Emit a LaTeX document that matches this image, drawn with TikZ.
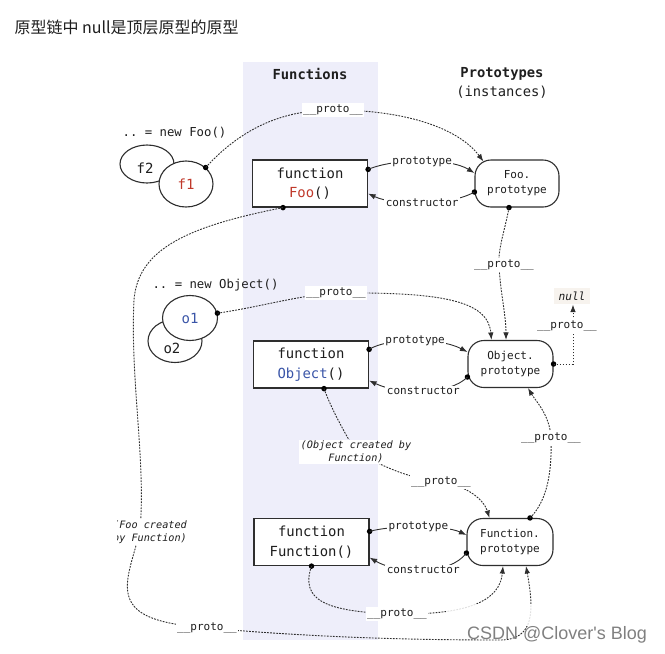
\documentclass[tikz,border=0pt]{standalone}
\usepackage{fontspec}
\setmonofont{DejaVu Sans Mono}
\newfontfamily\cjkfont{Noto Sans CJK SC}
\newfontfamily\wmfont{Liberation Sans}
\usetikzlibrary{arrows.meta,calc,shapes.geometric}
\definecolor{band}{HTML}{EEEEFA}
\definecolor{ink}{HTML}{1E1E1E}
\definecolor{lin}{HTML}{2E2E2E}
\definecolor{fooRed}{HTML}{C0392B}
\definecolor{objBlue}{HTML}{3A55A8}
\definecolor{nullbg}{HTML}{F7F3EE}
\newcommand\boxfont{\fontsize{13.9}{19.5}\selectfont\ttfamily}
\newcommand\smallmono{\fontsize{11}{15}\selectfont\ttfamily}
\newcommand\itmono{\fontsize{10.2}{12.5}\selectfont\ttfamily\itshape}
\newcommand\headfont{\fontsize{13.8}{19}\selectfont\ttfamily}
\newcommand\exprfont{\fontsize{12.3}{14}\selectfont\ttfamily}
\newcommand\instfont{\fontsize{14}{16}\selectfont\ttfamily}
\begin{document}
\begin{tikzpicture}[x=1pt,y=-1pt,
  >={Latex[length=7.5pt,width=5.5pt]},
  fnbox/.style={draw=lin, line width=1.2pt, fill=white, minimum width=115pt, minimum height=47pt, align=center, inner sep=0pt, font=\boxfont, text=ink},
  protobox/.style={draw=lin, line width=1.1pt, fill=white, rounded corners=16pt, minimum height=47pt, align=center, inner sep=0pt, font=\smallmono, text=ink},
  inst/.style={ellipse, draw=lin, line width=1.1pt, fill=white, inner sep=0pt, font=\instfont, text=ink},
  dot/.style={circle, fill=black, inner sep=0pt, minimum size=5.5pt},
  lab/.style={fill=white, inner sep=1.5pt, font=\smallmono, text=ink, align=center},
  dsh/.style={draw=lin, line width=0.9pt, dash pattern=on 1.8pt off 1.2pt},
  con/.style={draw=lin, line width=0.9pt}]
\useasboundingbox (0,0) rectangle (665,654);
\fill[band] (243,62) rectangle (378,640);

\node[anchor=west, font=\cjkfont\fontsize{16}{19}\selectfont, text=ink] (title) at (11,27) {原型链中 null是顶层原型的原型};
\node[font=\headfont\bfseries, text=ink] (hfun) at (310,74) {Functions};
\node[font=\headfont, text=ink, align=center] (hpro) at (502,83) {\textbf{Prototypes}\\(instances)};

% function boxes
\node[fnbox] (foo) at (310,183.5) {function\\\textcolor{fooRed}{Foo}()};
\node[fnbox] (obj) at (311,364.5) {function\\\textcolor{objBlue}{Object}()};
\node[fnbox] (fun) at (311.5,542) {function\\Function()};
% prototype boxes
\node[protobox, minimum width=84pt] (fooP) at (517,183.5) {Foo.\\prototype};
\node[protobox, minimum width=85pt] (objP) at (510.5,364) {Object.\\prototype};
\node[protobox, minimum width=86pt] (funP) at (510,542) {Function.\\prototype};

% instances
\node[font=\exprfont, text=ink] (nfoo) at (174.5,133) {.. = new Foo()};
\node[inst, minimum width=54pt, minimum height=38pt, label={[font=\instfont, text=ink, xshift=-2pt, yshift=-4pt]center:f2}] (f2) at (147,164) {};
\node[inst, minimum width=54pt, minimum height=46pt] (f1) at (186,184) {\textcolor{fooRed}{f1}};
\node[font=\exprfont, text=ink] (nobj) at (215.5,285) {.. = new Object()};
\node[inst, minimum width=54pt, minimum height=43pt, label={[font=\instfont, text=ink, xshift=-3pt, yshift=-7pt]center:o2}] (o2) at (175,341) {};
\node[inst, minimum width=55pt, minimum height=45pt] (o1) at (190,318) {\textcolor{objBlue}{o1}};

\node[font=\fontsize{11.2}{13}\selectfont\ttfamily\itshape, text=ink, fill=nullbg, inner xsep=5pt, inner ysep=4pt] (null) at (572,296) {null};

% dots
\node[dot] (df1) at (f1.40) {};
\node[dot] (do1) at (o1.10) {};
\node[dot] (dfooP) at ($(fooP.south)+(-8,0)$) {};
\node[dot] (dobjP) at (objP.east) {};
\node[dot] (dfunP) at ($(funP.north)+(20,0)$) {};
\node[dot] (dobj) at ($(obj.south)+(13,0)$) {};
\node[dot] (dfoo) at ($(foo.south)+(-27,0)$) {};
\node[dot] (dfun) at (fun.south) {};
\node[dot] (pfoo) at ($(foo.north east)+(0,10)$) {};
\node[dot] (cfoo) at ($(fooP.west)+(0,8.5)$) {};
\node[dot] (pobj) at ($(obj.north east)+(0,9)$) {};
\node[dot] (cobj) at ($(objP.west)+(0,13)$) {};
\node[dot] (pfun) at ($(fun.north east)+(0,13.5)$) {};
\node[dot] (cfun) at ($(funP.west)+(0,11)$) {};

% prototype / constructor
\draw[con,->] (pfoo.center) .. controls (395,158) and (450,158) .. node[lab] (lpf) {prototype} ($(fooP.west)+(0,-10.5)$);
\draw[con,->] (cfoo.center) .. controls (450,206) and (395,206) .. node[lab] (lcf) {constructor} ($(foo.south east)+(0,-14)$);
\draw[con,->] (pobj.center) .. controls (388,337.5) and (440,337.5) .. node[lab] (lpo) {prototype} ($(objP.west)+(0,-12)$);
\draw[con,->] (cobj.center) .. controls (450,395) and (400,395) .. node[lab] (lco) {constructor} ($(obj.south east)+(0,-8)$);
\draw[con,->] (pfun.center) .. controls (392,525) and (445,525) .. node[lab] (lpn) {prototype} ($(funP.west)+(0,-7)$);
\draw[con,->] (cfun.center) .. controls (450,575) and (400,575) .. node[lab] (lcn) {constructor} ($(fun.south east)+(0,-8.5)$);

% __proto__ links
\draw[dsh,->] (df1.center) .. controls (240,130) and (280,110) .. (333,110) node[lab] (l1) {\_\_proto\_\_} .. controls (410,110) and (460,130) .. ($(fooP.north west)+(9,2)$);
\draw[dsh,->] (dfooP.center) .. controls (505,230) and (498,248) .. (499,265) node[lab, xshift=5pt] (l2) {\_\_proto\_\_} .. controls (500,290) and (506,315) .. ($(objP.north)+(-4.5,0)$);
\draw[dsh,->] (do1.center) .. controls (260,307) and (300,295) .. (336,293) node[lab] (l3) {\_\_proto\_\_} .. controls (440,292) and (488,300) .. ($(objP.north west)+(24,0)$);
\draw[dsh,->] (dobjP.center) -| ($(null.south)+(1,0)$);
\node[lab] (l4) at (567,326) {\_\_proto\_\_};
\draw[dsh,->] (dfunP.center) .. controls (548,500) and (552,470) .. (551,438) node[lab] (l5) {\_\_proto\_\_} .. controls (550,415) and (535,400) .. ($(objP.south)+(17.5,0)$);
\draw[dsh,->] (dobj.center) .. controls (330,405) and (340,425) .. (356,452) node[lab, font=\itmono] (l6) {(Object created by\\Function)} .. controls (390,470) and (410,478) .. (441,482) node[lab] (l7) {\_\_proto\_\_} .. controls (468,486) and (484,500) .. ($(funP.north west)+(23,0)$);
\draw[dsh,->] (dfoo.center) .. controls (190,226) and (138,248) .. (134,300) .. controls (130,380) and (146,460) .. (140,530) coordinate (fooc) .. controls (130,575) and (105,612) .. (175,624) .. controls (190,627) and (200,628) .. (207,628) node[lab] (l8) {\_\_proto\_\_} .. controls (300,636) and (390,640) .. (500,640) .. controls (535,640) and (534,610) .. ($(funP.south)+(16,0)$);
\draw[dsh,->] (dfun.center) .. controls (300,600) and (325,612) .. (397,614) node[lab] (l9) {\_\_proto\_\_} .. controls (470,615) and (500,600) .. ($(funP.south)+(-7,0)$);

\begin{scope}
\clip (117,505) rectangle (200,560);
\node[lab, font=\itmono] (l10) at (150,532) {(Foo created\\by Function)};
\end{scope}

% watermark
\fill[white, opacity=0.85] (446,604) rectangle (590,626);
\node[font=\wmfont\fontsize{18}{21}\selectfont, text=black!50] (wm) at (557,635) {CSDN @Clover's Blog};
\end{tikzpicture}
\end{document}
